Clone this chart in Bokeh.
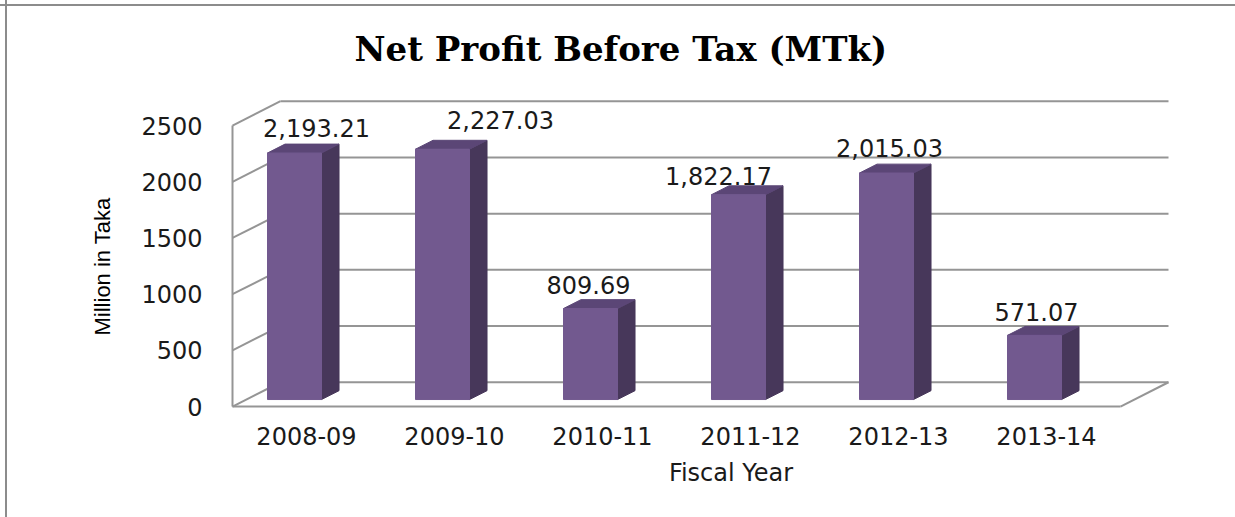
from bokeh.plotting import figure
from bokeh.models import Range1d, FixedTicker, ColumnDataSource, Title
from bokeh.core.properties import value
from bokeh.embed import file_html
from bokeh.resources import INLINE

# ---------------- data ----------------
years = ["2008-09", "2009-10", "2010-11", "2011-12", "2012-13", "2013-14"]
profit = [2193.21, 2227.03, 809.69, 1822.17, 2015.03, 571.07]
y_ticks = [0, 500, 1000, 1500, 2000, 2500]
title_text = "Net Profit Before Tax  (MTk)"
y_title = "Million in Taka"
x_title = "Fiscal Year"

# ---------------- layout constants ----------------
W, H = 1235, 517
B_LEFT, B_RIGHT, B_TOP, B_BOTTOM = 226, 0, 92, 93
frame_w = W - B_LEFT - B_RIGHT
frame_h = H - B_TOP - B_BOTTOM
CAT_PX = 148.0          # pixels per category slot
VAL_PX = 0.1131         # pixels per million Taka
FLOOR_GAP_PX = 18       # floor line above frame bottom
LEFT_GAP_PX = 6         # wall edge right of frame left
DEPTH_DX = 48.0 / CAT_PX    # 3-D depth vector in data units
DEPTH_DY = 24.5 / VAL_PX
F_FRONT, F_BACK = 0.29, 0.655   # bar depth position (fraction of floor depth)
BAR_W = 54.0 / CAT_PX
BAR_SHIFT = (-12.0 - F_FRONT * 48.0) / CAT_PX
LABEL_SHIFT_PX = [22, 58, -2, -20, 3, 2]
LABEL_GAP_PX = [16, 20, 15, 10, 16, 15]

FRONT_COL = "#72598F"
SIDE_COL = "#47375A"
TOP_COL = "#5B4676"
GRID_COL = "#959595"
TEXT_COL = "#1a1a1a"
FONT = "DejaVu Sans"
FS = "24px"

n = len(years)
x_start = -0.5 - LEFT_GAP_PX / CAT_PX
x_end = x_start + frame_w / CAT_PX
y_start = -FLOOR_GAP_PX / VAL_PX
y_end = y_start + frame_h / VAL_PX

p = figure(width=W, height=H, output_backend="svg", toolbar_location=None,
           x_range=Range1d(x_start, x_end), y_range=Range1d(y_start, y_end),
           min_border_left=B_LEFT, min_border_right=B_RIGHT,
           min_border_top=B_TOP, min_border_bottom=B_BOTTOM,
           title=title_text)
# chart-area border (left and top edges visible)
p.styles = {
    "background": "linear-gradient(to right, transparent 5px, #8c8c8c 5px, #8c8c8c 7px, transparent 7px), "
                  "linear-gradient(to bottom, transparent 4px, #8c8c8c 4px, #8c8c8c 6px, transparent 6px), white"
}
p.background_fill_color = None
p.border_fill_color = None
p.outline_line_color = None
p.xgrid.visible = False
p.ygrid.visible = False

# title
p.title.align = "left"
p.title.offset = 128
p.title.text_font = "DejaVu Serif"
p.title.text_font_style = "bold"
p.title.text_font_size = "34px"
p.title.text_color = "black"
p.title.standoff = 52

# ---------------- walls & floor ----------------
wall_l, wall_r = -0.5, n - 0.5
top_tick = max(y_ticks)
p.segment(x0=[wall_l + DEPTH_DX] * len(y_ticks), x1=[wall_r + DEPTH_DX] * len(y_ticks),
          y0=[t + DEPTH_DY for t in y_ticks], y1=[t + DEPTH_DY for t in y_ticks],
          line_color=GRID_COL, line_width=2)
p.segment(x0=[wall_l] * len(y_ticks), x1=[wall_l + DEPTH_DX] * len(y_ticks),
          y0=y_ticks, y1=[t + DEPTH_DY for t in y_ticks],
          line_color=GRID_COL, line_width=2)
p.segment(x0=[wall_l, wall_l, wall_r], y0=[0, 0, 0],
          x1=[wall_l, wall_r, wall_r + DEPTH_DX], y1=[top_tick, 0, DEPTH_DY],
          line_color=GRID_COL, line_width=2)

# ---------------- 3-D bars ----------------
cx = [i + BAR_SHIFT for i in range(n)]
xl = [c - BAR_W / 2 for c in cx]
xr = [c + BAR_W / 2 for c in cx]
fdx, fdy = F_FRONT * DEPTH_DX, F_FRONT * DEPTH_DY
bdx, bdy = F_BACK * DEPTH_DX, F_BACK * DEPTH_DY

side_xs = [[r + fdx, r + bdx, r + bdx, r + fdx] for r in xr]
side_ys = [[fdy, bdy, v + bdy, v + fdy] for v in profit]
top_xs = [[l + fdx, r + fdx, r + bdx, l + bdx] for l, r in zip(xl, xr)]
top_ys = [[v + fdy, v + fdy, v + bdy, v + bdy] for v in profit]

p.patches(xs=side_xs, ys=side_ys, fill_color=SIDE_COL, line_color=SIDE_COL, line_width=1)
p.patches(xs=top_xs, ys=top_ys, fill_color=TOP_COL, line_color=TOP_COL, line_width=1)
p.quad(left=[l + fdx for l in xl], right=[r + fdx for r in xr],
       bottom=[fdy] * n, top=[v + fdy for v in profit],
       fill_color=FRONT_COL, line_color=FRONT_COL, line_width=1)

# value labels
lab_src = ColumnDataSource(dict(
    x=[c + fdx + s / CAT_PX for c, s in zip(cx, LABEL_SHIFT_PX)],
    y=[v + bdy + g / VAL_PX for v, g in zip(profit, LABEL_GAP_PX)],
    text=[f"{v:,.2f}" for v in profit],
))
p.text(x="x", y="y", text="text", source=lab_src, text_align="center",
       text_baseline="middle", text_font=value(FONT), text_font_size=FS,
       text_color=TEXT_COL)

# ---------------- axes ----------------
yax = p.yaxis[0]
yax.ticker = FixedTicker(ticks=y_ticks)
yax.axis_line_color = None
yax.major_tick_line_color = None
yax.minor_tick_line_color = None
yax.major_tick_out = 0
yax.major_tick_in = 0
yax.major_label_standoff = 24
yax.major_label_text_font = FONT
yax.major_label_text_font_size = FS
yax.major_label_text_color = TEXT_COL

# y-axis title, placed along the wall height
p.add_layout(Title(text=y_title, align="left", offset=89, standoff=48,
                   text_font="Liberation Sans", text_font_size="22px",
                   text_font_style="normal", text_color="black"), "left")

xax = p.xaxis[0]
xax.ticker = FixedTicker(ticks=list(range(n)))
xax.major_label_overrides = {i: years[i] for i in range(n)}
xax.axis_line_color = None
xax.major_tick_line_color = None
xax.minor_tick_line_color = None
xax.major_tick_out = 0
xax.major_tick_in = 0
xax.major_label_standoff = 2
xax.major_label_text_font = FONT
xax.major_label_text_font_size = FS
xax.major_label_text_color = TEXT_COL
xax.axis_label = x_title
xax.axis_label_text_font = FONT
xax.axis_label_text_font_size = FS
xax.axis_label_text_font_style = "normal"
xax.axis_label_text_color = TEXT_COL
xax.axis_label_standoff = 11

open("out.html", "w").write(file_html(p, INLINE))
